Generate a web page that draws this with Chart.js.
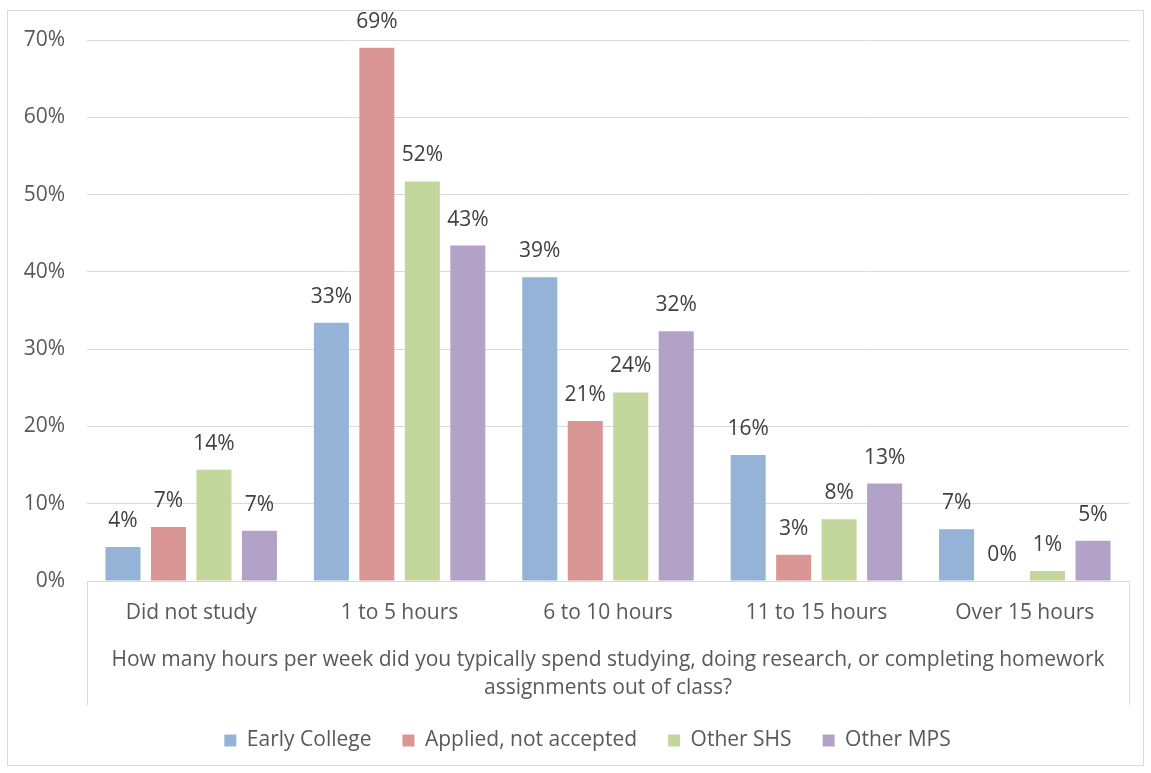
<!DOCTYPE html>
<html>
<head>
<meta charset="utf-8">
<script src="https://cdn.jsdelivr.net/npm/chart.js@4"></script>
<style>
  html, body { margin: 0; padding: 0; background: #fff; }
  #wrap { width: 1151px; height: 773px; }
</style>
</head>
<body>
<div id="wrap"><canvas id="hours-chart" width="1151" height="773"></canvas></div>
<script>
// data (percent)
const categories = ["Did not study", "1 to 5 hours", "6 to 10 hours", "11 to 15 hours", "Over 15 hours"];
const earlyCollege = [4.4, 33.4, 39.3, 16.3, 6.7];
const appliedNotAccepted = [7.0, 69.0, 20.7, 3.4, 0];
const otherSHS = [14.4, 51.7, 24.4, 8.0, 1.3];
const otherMPS = [6.5, 43.4, 32.3, 12.6, 5.2];
const seriesNames = ["Early College", "Applied, not accepted", "Other SHS", "Other MPS"];
const axisTitle = [
  "How many hours per week did you typically spend studying, doing research, or completing homework",
  "assignments out of class?"
];
const yMax = 70;
const yStep = 10;

const colors = ["#95B3D7", "#D99694", "#C3D69B", "#B3A2C7"];
const textColor = "#595959";
const lineColor = "#D9D9D9";
const fontFamily = "'Open Sans', 'DejaVu Sans', sans-serif";
const fontSize = 21;

// value labels above each bar
const barLabels = {
  id: "barLabels",
  afterDatasetsDraw(chart) {
    const ctx = chart.ctx;
    ctx.save();
    ctx.font = fontSize + "px " + fontFamily;
    ctx.fillStyle = "#404040";
    ctx.textAlign = "center";
    ctx.textBaseline = "alphabetic";
    chart.data.datasets.forEach((ds, i) => {
      chart.getDatasetMeta(i).data.forEach((bar, j) => {
        ctx.fillText(Math.round(ds.data[j]) + "%", bar.x, bar.y - 20);
      });
    });
    ctx.restore();
  }
};

// nudge the legend a little right, like the original
const legendShift = {
  id: "legendShift",
  afterLayout(chart) {
    if (chart.legend) chart.legend.left += 38;
  }
};

// category box lines and outer frame
const frame = {
  id: "frame",
  afterDraw(chart) {
    const ctx = chart.ctx;
    const a = chart.chartArea;
    ctx.save();
    ctx.strokeStyle = lineColor;
    ctx.lineWidth = 1;
    ctx.beginPath();
    ctx.moveTo(Math.round(a.left) + 0.5, a.bottom);
    ctx.lineTo(Math.round(a.left) + 0.5, a.bottom + 124);
    ctx.moveTo(Math.round(a.right) + 0.5, a.bottom);
    ctx.lineTo(Math.round(a.right) + 0.5, a.bottom + 124);
    ctx.stroke();
    ctx.strokeRect(7.5, 10.5, 1136, 755);
    ctx.restore();
  }
};

function mkDataset(label, data, color) {
  return {
    label: label,
    data: data,
    backgroundColor: color,
    borderWidth: 0,
    categoryPercentage: 0.873,
    barPercentage: 0.77
  };
}

const ctxHours = document.getElementById("hours-chart");
new Chart(ctxHours, {
  type: "bar",
  data: {
    labels: categories,
    datasets: [
      mkDataset(seriesNames[0], earlyCollege, colors[0]),
      mkDataset(seriesNames[1], appliedNotAccepted, colors[1]),
      mkDataset(seriesNames[2], otherSHS, colors[2]),
      mkDataset(seriesNames[3], otherMPS, colors[3])
    ]
  },
  options: {
    responsive: false,
    animation: false,
    layout: { padding: { left: 8, right: 22, top: 40, bottom: 12 } },
    plugins: {
      tooltip: { enabled: false },
      legend: {
        position: "bottom",
        labels: {
          color: textColor,
          font: { family: fontFamily, size: fontSize },
          boxWidth: 12,
          boxHeight: 12,
          padding: 31
        }
      }
    },
    scales: {
      x: {
        grid: { display: false, drawTicks: false },
        border: { display: true, color: lineColor },
        ticks: { color: textColor, font: { family: fontFamily, size: fontSize }, padding: 19 },
        title: {
          display: true,
          text: axisTitle,
          color: textColor,
          font: { family: fontFamily, size: fontSize, lineHeight: 28 / fontSize },
          padding: { top: 20, bottom: -3 }
        },
        afterFit(scale) { scale.height = 118; }
      },
      y: {
        min: 0,
        max: yMax,
        grid: { color: lineColor, drawTicks: false },
        border: { display: false },
        ticks: {
          stepSize: yStep,
          color: textColor,
          font: { family: fontFamily, size: fontSize },
          padding: 22,
          callback: (v) => v + "%"
        },
        afterFit(scale) { scale.width = 79; }
      }
    }
  },
  plugins: [barLabels, legendShift, frame]
});
</script>
</body>
</html>
